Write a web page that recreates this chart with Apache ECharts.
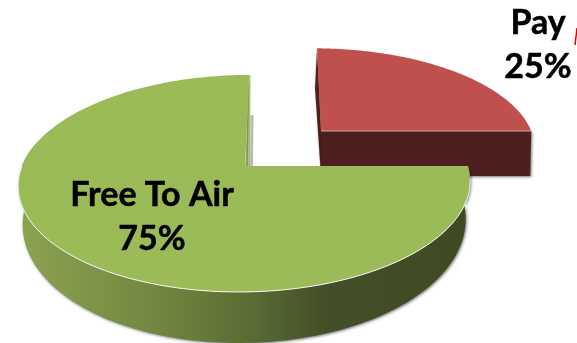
<!DOCTYPE html>
<html><head><meta charset="utf-8">
<style>html,body{margin:0;padding:0;background:#fff}#c{width:577px;height:343px}</style>
<script src="https://cdn.jsdelivr.net/npm/echarts@6/dist/echarts.min.js"></script>
</head><body><div id="c"></div>
<script>
const categories = ['Pay', 'Free To Air'];
const seriesValues = [25, 75];

const topColors = ['#C0504D', '#9BBB59'];
const views = [
  {cx:321, cy:131, a:214, b:96,   s:4.6,  k:-0.161, m:0.018, h0:45, h1:0,  inset:1,    labelX:538, labelY:[23,67]},
  {cx:245, cy:166, a:223, b:105.7,s:-5.2, k:-0.161, m:0,     h0:36, h1:15, inset:0.98, labelX:152, labelY:[195,239]}
];
const greenWall = {type:'linear', x:19, y:0, x2:469, y2:0, global:true, colorStops:[
  {offset:0,color:'#8CA351'},{offset:0.3,color:'#728740'},{offset:0.52,color:'#5A6B33'},
  {offset:0.68,color:'#434F28'},{offset:1,color:'#3F4A23'}]};
const total = seriesValues.reduce((p,c)=>p+c,0);

function project(p,u,v){
  const d = 1 + p.m*u + p.k*v;
  return [p.cx + (p.a*u + p.s*v)/d, p.cy + p.b*v/d];
}
function rim(p,t){ return project(p, Math.sin(t), -Math.cos(t)); }
function arc(p,t0,t1,drop){
  const out=[]; const n=160;
  for(let i=0;i<=n;i++){
    const t=t0+(t1-t0)*i/n; const q=rim(p,t);
    const v=-Math.cos(t);
    out.push(drop?[p.cx+(q[0]-p.cx)*p.inset,q[1]+p.h0+p.h1*Math.max(v,0)]:q);
  }
  return out;
}
function renderItem(params, api){
  const i = params.dataIndex;
  const p = views[i];
  const val = api.value(1);
  let before = 0; for(let j=0;j<i;j++) before += seriesValues[j];
  const t0 = before/total*2*Math.PI, t1 = (before+val)/total*2*Math.PI;
  const apex = project(p,0,0);
  const children = [];
  const shadow = {shadowColor:'rgba(0,0,0,0.55)', shadowBlur:3, shadowOffsetX:1, shadowOffsetY:1};
  if(i===0){
    const start = rim(p,t0), end = rim(p,t1);
    const dark = '#4D1F1E';
    children.push({type:'polygon',shape:{points:[start,apex,[apex[0],apex[1]+p.h0],[start[0]-2,start[1]+40]]},
      style:Object.assign({fill:dark},shadow)});
    children.push({type:'polygon',shape:{points:[apex,end,[end[0]-1,end[1]+p.h0],[apex[0],apex[1]+p.h0]]},
      style:Object.assign({fill:dark},shadow)});
  } else {
    const a0 = Math.PI/2, a1 = 3*Math.PI/2 + 0.22;
    const up = arc(p,a0,a1,false), low = arc(p,a0,a1,true).reverse();
    children.push({type:'polygon',shape:{points:up.concat(low)},style:Object.assign({fill:greenWall},shadow)});
    const end = rim(p,t1);
    children.push({type:'polygon',shape:{points:[[end[0]+1,end[1]+40],[end[0]+4,end[1]+40],[apex[0]+8,apex[1]],[apex[0]+5,apex[1]]]},
      style:{fill:'rgba(130,130,130,0.55)'}});
    children.push({type:'polygon',shape:{points:[end,[apex[0],apex[1]],[apex[0]+5,apex[1]],[end[0]+1,end[1]]]},
      style:{fill:'#A9C27A'}});
    children.push({type:'polyline',shape:{points:[[end[0]-1,end[1]+8],[apex[0]+2,apex[1]]]},
      style:{fill:null,stroke:'#7F9A4E',lineWidth:1.5}});
  }
  const top = [apex].concat(arc(p,t0,t1,false));
  children.push({type:'polygon',shape:{points:top},style:{fill:topColors[i]}});
  if(i===1){
    children.push({type:'polyline',shape:{points:arc(p,Math.PI/2+0.12,3*Math.PI/2,false)},
      style:{fill:null,stroke:'rgba(255,255,255,0.9)',lineWidth:1}});
  } else {
    children.push({type:'polyline',shape:{points:[apex,rim(p,t1)]},style:{fill:null,stroke:'rgba(235,190,190,0.8)',lineWidth:1}});
  }
  const lines = [categories[i], Math.round(val/total*100)+'%'];
  lines.forEach((txt,k)=>{
    children.push({type:'text',z2:100,style:{text:txt,x:p.labelX,y:p.labelY[k],align:'center',verticalAlign:'middle',
      fill:'#000',stroke:'#000',lineWidth:0.5,font:'bold 34px Lato, Carlito, "Open Sans", sans-serif'}});
  });
  return {type:'group',children};
}
const chart = echarts.init(document.getElementById('c'),null,{renderer:'canvas'});
chart.setOption({
  animation:false,
  backgroundColor:'#fff',
  series:[{type:'custom',coordinateSystem:'none',clip:false,silent:true,renderItem,
    data:seriesValues.map((v,i)=>[i,v])}],
  graphic:[{type:'line',shape:{x1:577,y1:28,x2:575,y2:45},style:{stroke:'#E00000',lineWidth:1.5}}]
});
</script></body></html>
